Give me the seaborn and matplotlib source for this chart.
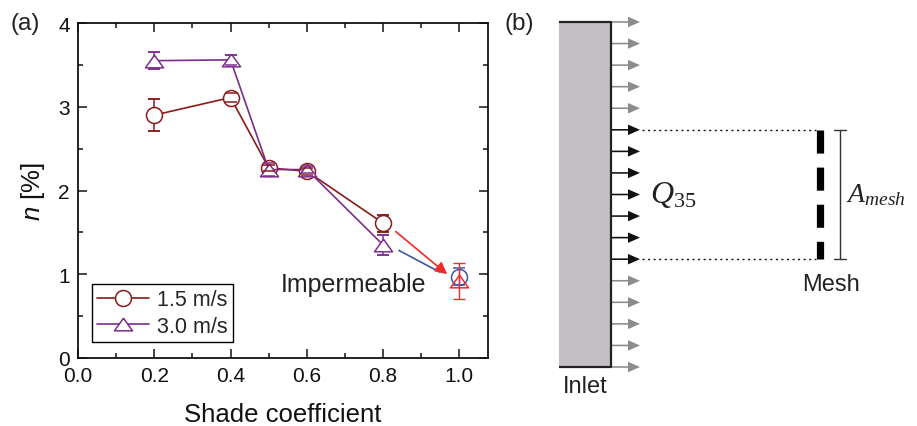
import numpy as np
import pandas as pd
import matplotlib
matplotlib.use("Agg")
import matplotlib.pyplot as plt
from matplotlib.ticker import MultipleLocator, FormatStrFormatter
import seaborn as sns

sns.set_style("ticks")
plt.rcParams['font.family'] = ['Liberation Sans', 'DejaVu Sans']
plt.rcParams['mathtext.fontset'] = 'custom'
plt.rcParams['mathtext.rm'] = 'Liberation Serif'
plt.rcParams['mathtext.it'] = 'Liberation Serif:italic'
plt.rcParams['mathtext.sf'] = 'Liberation Sans:italic'

# (a) data
shade = [0.2, 0.4, 0.5, 0.6, 0.8]
n_15 = [2.90, 3.11, 2.27, 2.23, 1.61]
err_15 = [0.19, 0.05, 0.04, 0.04, 0.10]
n_30 = [3.55, 3.56, 2.25, 2.25, 1.35]
err_30 = [0.10, 0.06, 0.08, 0.04, 0.12]
imp_shade = 1.0
imp_15, imp_err_15 = 0.97, 0.10
imp_30, imp_err_30 = 0.92, 0.22

# (b) schematic: 17 inlet arrows, the ones feeding the mesh are black
n_arrows = 17
mesh_arrows = [5, 6, 7, 8, 9, 10, 11]

c15 = "#8b1a1a"
c30 = "#7b2d8e"
cblue = "#3a58a8"
cred = "#ee2a2a"
tri = [(0, 0.7), (-1, -0.7), (1, -0.7), (0, 0.7)]

fig = plt.figure(figsize=(9.17, 4.27), dpi=100)
ax = fig.add_axes([78 / 917, 68 / 427, 410 / 917, 335 / 427])

df = pd.DataFrame({"shade": shade, "n15": n_15, "n30": n_30})

# error bars under the white markers, caps again on top
for y, e, c in [(n_15, err_15, c15), (n_30, err_30, c30)]:
    ax.errorbar(shade, y, yerr=e, fmt='none', ecolor=c, elinewidth=1.1,
                capsize=4, capthick=1.1, zorder=2)
sns.lineplot(data=df, x="shade", y="n15", ax=ax, color=c15, lw=1.2,
             marker='o', markersize=11.5, markerfacecolor='white',
             markeredgecolor=c15, markeredgewidth=1.1, label="1.5 m/s", zorder=3)
sns.lineplot(data=df, x="shade", y="n30", ax=ax, color=c30, lw=1.2,
             marker=tri, markersize=13, markerfacecolor='white',
             markeredgecolor=c30, markeredgewidth=1.1, label="3.0 m/s", zorder=3)
for y, e, c in [(n_15, err_15, c15), (n_30, err_30, c30)]:
    ax.errorbar(shade, y, yerr=e, fmt='none', ecolor=c, elinewidth=0,
                capsize=4, capthick=1.1, zorder=4)

# impermeable case
ax.errorbar([imp_shade], [imp_15], yerr=[imp_err_15], fmt='o', ms=11.5, mfc='none',
            mec=cblue, mew=1.1, ecolor=cblue, elinewidth=1.0, capsize=4, zorder=5)
ax.errorbar([imp_shade], [imp_30], yerr=[imp_err_30], fmt='none',
            ecolor=cred, elinewidth=1.0, capsize=4, zorder=6)
ax.plot([imp_shade], [imp_30], marker=tri, ms=13, mfc='none', mec=cred, mew=1.1,
        ls='none', zorder=6)

ax.annotate('', xy=(0.955, 1.01), xytext=(0.835, 1.30),
            arrowprops=dict(arrowstyle='-', color=cblue, lw=1.2))
ax.annotate('', xy=(0.968, 1.0), xytext=(0.833, 1.51),
            arrowprops=dict(arrowstyle='-|>', color=cred, lw=1.2, mutation_scale=18,
                            shrinkA=0, shrinkB=0))
ax.text(0.914, 0.88, "Impermeable", ha='right', va='center', fontsize=18, color='#222222')

ax.set_xlim(0, 1.075)
ax.set_ylim(0, 4)
ax.xaxis.set_major_locator(MultipleLocator(0.2))
ax.xaxis.set_minor_locator(MultipleLocator(0.1))
ax.yaxis.set_major_locator(MultipleLocator(1))
ax.yaxis.set_minor_locator(MultipleLocator(0.5))
ax.xaxis.set_major_formatter(FormatStrFormatter('%.1f'))
ax.tick_params(which='both', direction='in', top=True, right=True, width=1.1,
               labelsize=15, colors='#111111')
ax.tick_params(which='major', length=6.5)
ax.tick_params(which='minor', length=3.5)
ax.tick_params(axis='x', pad=6)
ax.tick_params(axis='y', pad=6)
for s in ax.spines.values():
    s.set_linewidth(1.3)
    s.set_color('#111111')
ax.set_xlabel("Shade coefficient", fontsize=18.5, labelpad=12, color='#111111')
ax.set_ylabel(r"$\mathsf{n}$ [%]", fontsize=18.5, labelpad=8, color='#111111')

leg = ax.legend(loc='lower left', bbox_to_anchor=(0.034, 0.048), fontsize=15.5,
                frameon=True, fancybox=False, edgecolor='black', framealpha=1,
                handlelength=2.4, handletextpad=0.35, borderpad=0.25, labelspacing=0.25,
                borderaxespad=0)
leg.get_frame().set_linewidth(1.0)

fig.text(10 / 917, 1 - 24 / 427, "(a)", fontsize=17.5, va='center', color='#222222')

# (b) schematic in pixel coordinates
axb = fig.add_axes([0, 0, 1, 1], zorder=-1)
axb.set_xlim(0, 917)
axb.set_ylim(427, 0)
axb.axis('off')

top, bot = 23, 368
x0, x1 = 559, 611
axb.fill_between([x0, x1], top, bot, color='#c4bfc4', lw=0)
axb.plot([x0, x1, x1, x0], [top, top, bot, bot], color='#222222', lw=1.6,
         solid_capstyle='butt')

ys = np.linspace(top, bot, n_arrows)
for i, y in enumerate(ys):
    col = '#111111' if i in mesh_arrows else '#8c8c8c'
    axb.arrow(x1, y, 29, 0, width=1.6, head_width=10.5, head_length=12,
              length_includes_head=True, color=col, lw=0)

y_a, y_b = ys[mesh_arrows[0]], ys[mesh_arrows[-1]]
axb.plot([642, 816], [y_a, y_a], color='#111111', lw=1.0, ls=(0, (1.5, 2.5)))
axb.plot([642, 816], [y_b, y_b], color='#111111', lw=1.0, ls=(0, (1.5, 2.5)))
axb.plot([820, 820], [y_a, y_b], color='black', lw=5.2,
         ls=(0, (23 / 7.2, 14 / 7.2)), dash_capstyle='butt')
axb.plot([840, 840], [y_a, y_b], color='#333333', lw=1.0)
axb.plot([834, 846], [y_a, y_a], color='#333333', lw=1.0)
axb.plot([834, 846], [y_b, y_b], color='#333333', lw=1.0)

axb.text(650, 195, r"$Q_{35}$", fontsize=23, va='center', ha='left', color='#222222')
axb.text(846, 195, r"$A_{mesh}$", fontsize=20, va='center', ha='left', color='#222222')
axb.text(831, 285, "Mesh", fontsize=17, va='center', ha='center', color='#222222')
axb.text(585, 387, "Inlet", fontsize=17, va='center', ha='center', color='#222222')
fig.text(505 / 917, 1 - 24 / 427, "(b)", fontsize=17.5, va='center', color='#222222')

fig.savefig("out.png", dpi=100)
